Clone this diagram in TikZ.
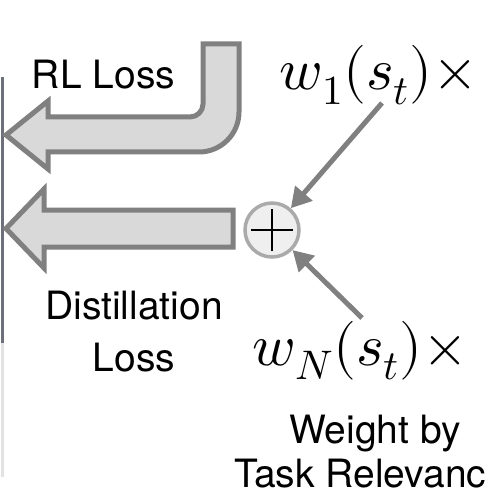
\documentclass[tikz,border=0pt]{standalone}
\usepackage{fontspec}
\usepackage{unicode-math}
\setmainfont{TeX Gyre Heros}
\setmathfont{Latin Modern Math}
\usetikzlibrary{arrows.meta}
\definecolor{arrowgray}{HTML}{808080}
\definecolor{arrowfill}{HTML}{D9D9D9}
\definecolor{circgray}{HTML}{AAAAAA}
\definecolor{circfill}{HTML}{EFEFEF}
\definecolor{bardark}{HTML}{6C7078}
\definecolor{barlight}{HTML}{E2E2E2}
\tikzset{
  bigarrow/.style={draw=arrowgray, fill=arrowfill, line width=5pt, line join=miter},
  lbl/.style={inner sep=0pt, font=\fontsize{39}{52}\selectfont},
  mathlbl/.style={inner sep=0pt, font=\fontsize{59}{66}\selectfont},
  weightarrow/.style={draw=arrowgray, line width=5pt, -{Triangle[length=20pt,width=22pt]}},
  sumnode/.style={circle, draw=circgray, fill=circfill, line width=3.5pt, minimum size=54pt, inner sep=0pt}
}
\begin{document}
\begin{tikzpicture}[x=1pt, y=-1pt]
\useasboundingbox (0,0) rectangle (492,497);
% left bar
\draw[bardark, line width=3pt] (2,77) -- (2,343);
\draw[barlight, line width=3pt] (2,343) -- (2,477);
% RL loss arrow
\path[bigarrow] (6,135) -- (48,101) -- (48,117) -- (190,117)
  arc[start angle=90, end angle=0, radius=13] -- (203,44) -- (239,44) -- (239,112)
  arc[start angle=0, end angle=90, radius=40] -- (48,152) -- (48,169) -- cycle;
% distillation arrow
\path[bigarrow] (6,228.5) -- (44,189) -- (44,210) -- (233,210) -- (233,247) -- (44,247) -- (44,268) -- cycle;
% sum node
\node[sumnode] (plus) at (272,230) {};
\draw[black, line width=2pt] ([xshift=-21pt]plus.center) -- ([xshift=21pt]plus.center);
\draw[black, line width=2pt] ([yshift=-21pt]plus.center) -- ([yshift=21pt]plus.center);
% labels
\node[lbl, anchor=base] (rl) at (103.5,89) {RL Loss};
\node[lbl, anchor=base, align=center] (dl) at (134,371) {Distillation\\Loss};
\node[mathlbl, anchor=base] (w1) at (379,90) {$w_1(s_t)\times$};
\node[mathlbl, anchor=base] (wN) at (360.5,365) {$w_N(s_t)\times$};
\node[lbl, anchor=base] (wb) at (375,443) {Weight by};
\node[lbl, anchor=base west] (tr) at (234,487) {Task Relevanc};
% weight arrows
\coordinate (t1) at (382,103);
\coordinate (tN) at (362,318);
\draw[weightarrow] (t1) -- (plus);
\draw[weightarrow] (tN) -- (plus);
\end{tikzpicture}
\end{document}
